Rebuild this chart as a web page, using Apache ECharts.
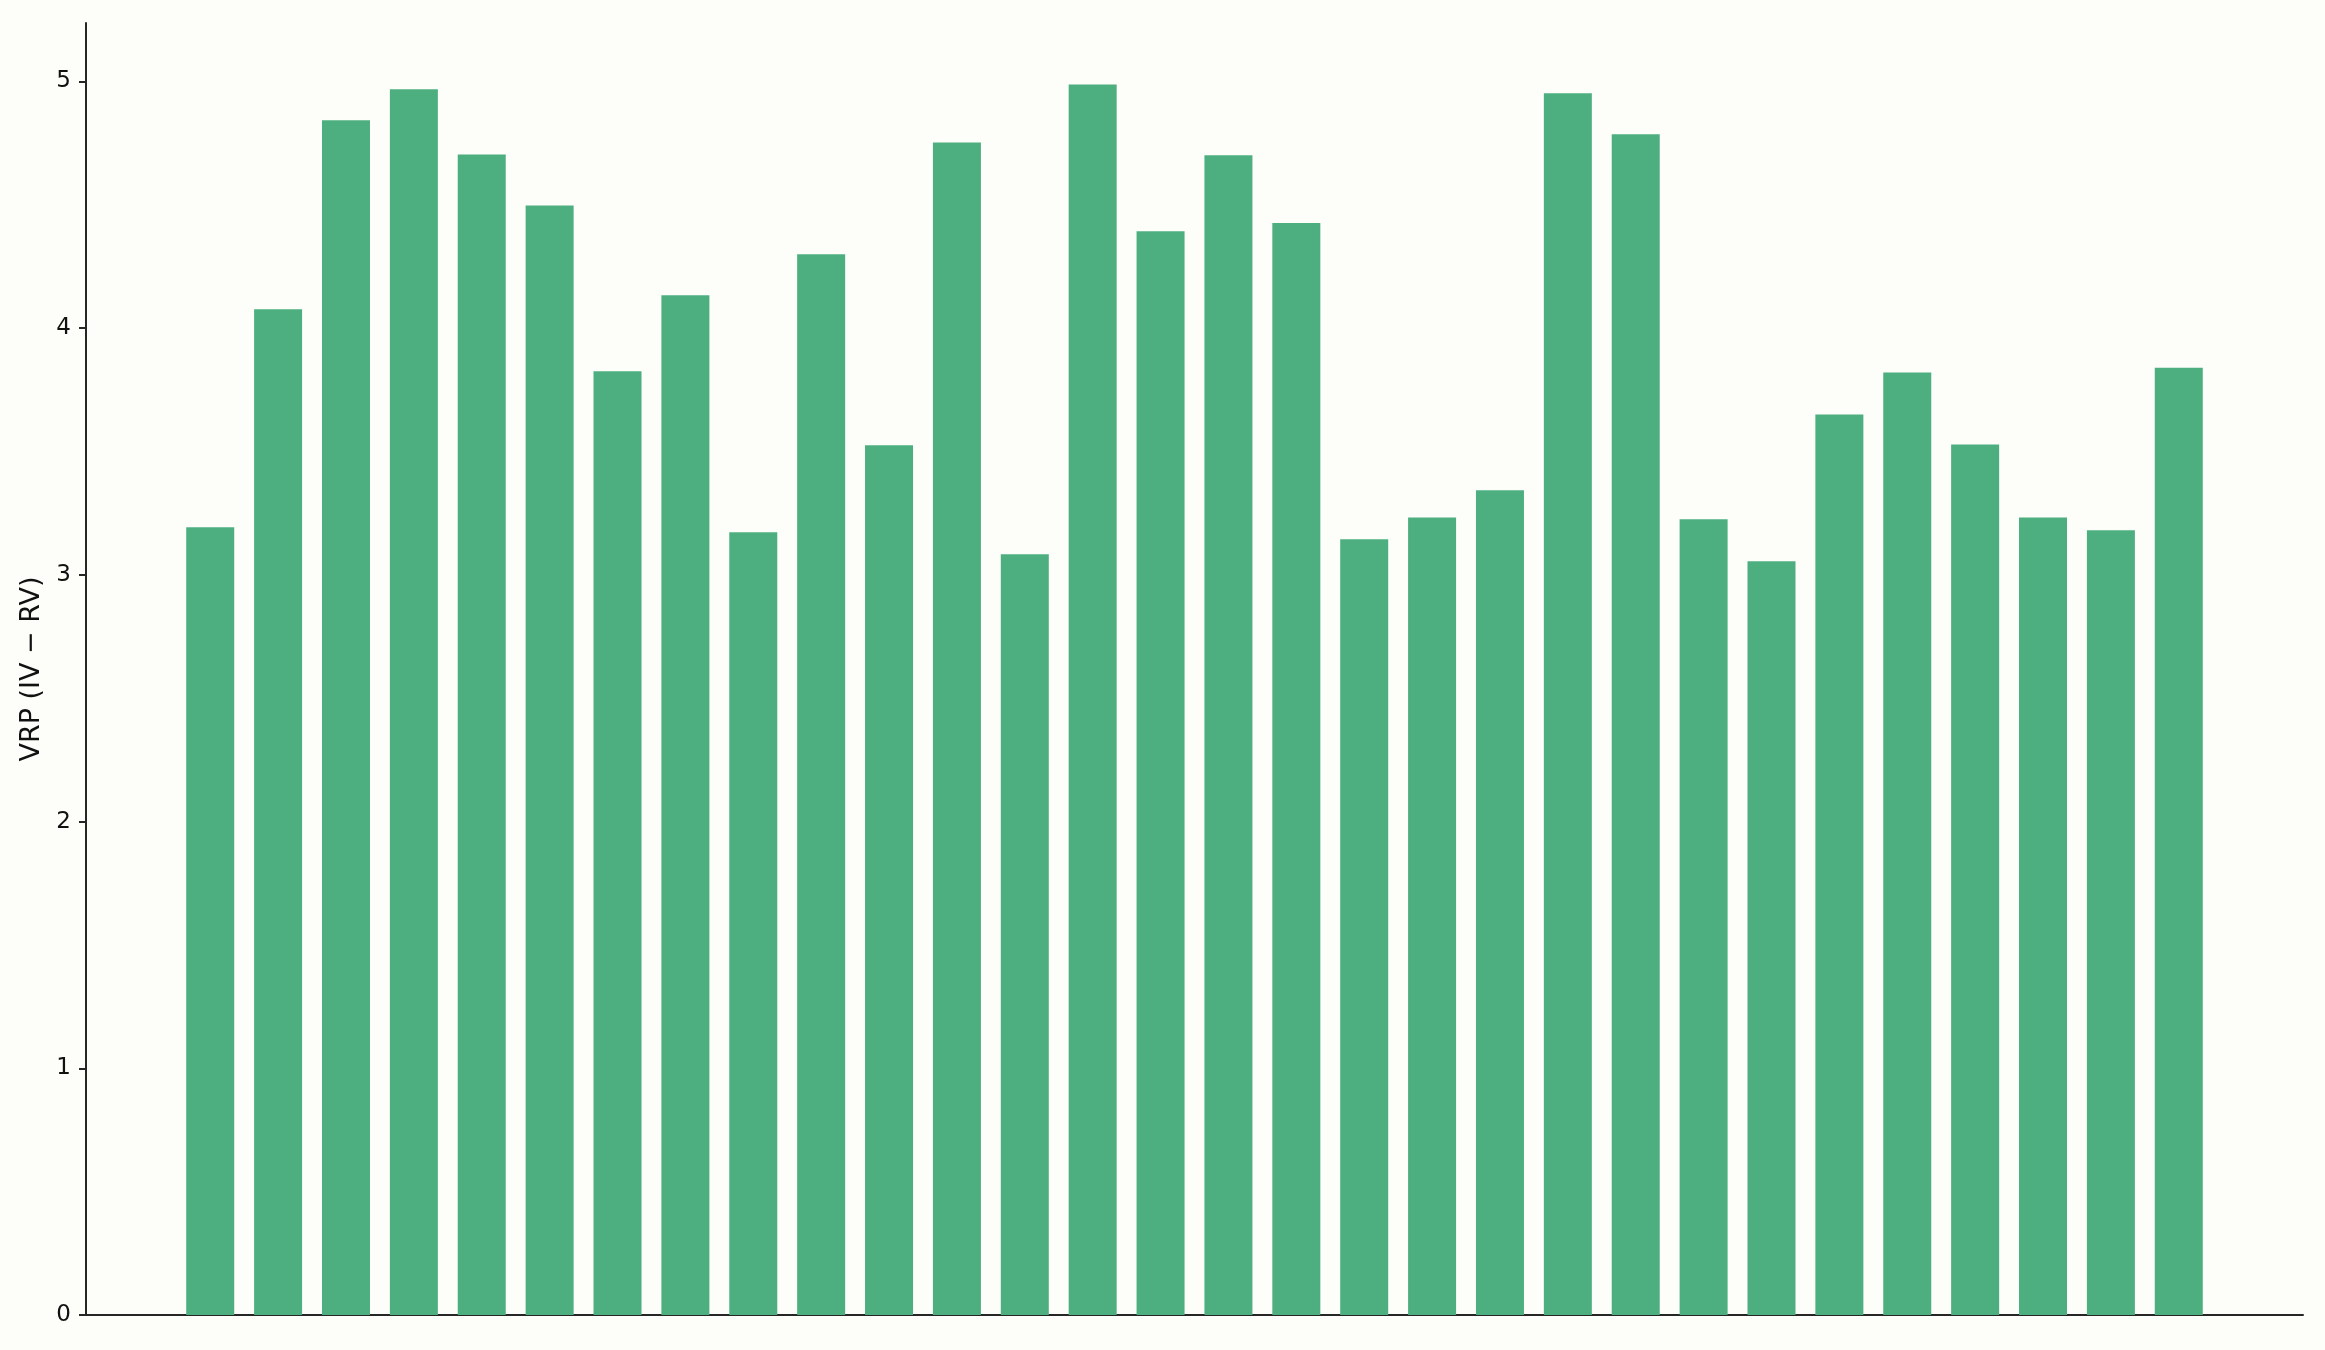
<!DOCTYPE html>
<html>
<head>
<meta charset="utf-8">
<script src="https://cdn.jsdelivr.net/npm/echarts@6/dist/echarts.min.js"></script>
<style>
html,body{margin:0;padding:0;background:#fdfdf9;}
#chart{width:2325px;height:1350px;}
</style>
</head>
<body>
<div id="chart"></div>
<script>
const categories = [0,1,2,3,4,5,6,7,8,9,10,11,12,13,14,15,16,17,18,19,20,21,22,23,24,25,26,27,28,29];
const vrpValues = [3.193,4.077,4.843,4.968,4.704,4.497,3.825,4.133,3.173,4.300,
                   3.525,4.753,3.084,4.988,4.393,4.701,4.426,3.144,3.233,3.343,
                   4.952,4.786,3.225,3.055,3.650,3.820,3.528,3.233,3.181,3.840];
const yTicks = [0,1,2,3,4,5];
const yTitle = 'VRP (IV − RV)';

const chart = echarts.init(document.getElementById('chart'), null, {renderer:'canvas'});
const axisColor = '#262626';
chart.setOption({
  backgroundColor:'#fdfdf9',
  animation:false,
  grid:{left:86,right:22,top:23,bottom:35,containLabel:false},
  xAxis:{
    type:'value',min:-1.83,max:30.83,
    axisLine:{show:true,onZero:false,lineStyle:{color:axisColor,width:2}},
    axisTick:{show:false},axisLabel:{show:false},splitLine:{show:false}
  },
  yAxis:{
    type:'value',min:0,max:5.237,
    name:yTitle,nameLocation:'middle',nameGap:31,
    nameTextStyle:{fontFamily:'DejaVu Sans',fontSize:27,color:'#111'},
    axisLine:{show:true,onZero:false,lineStyle:{color:axisColor,width:2}},
    axisTick:{show:true,length:7,customValues:yTicks,lineStyle:{color:axisColor,width:2}},
    axisLabel:{show:true,margin:15,customValues:yTicks,fontFamily:'DejaVu Sans',fontSize:23,color:'#111'},
    splitLine:{show:false}
  },
  series:[{
    type:'bar',
    barWidth:48,
    itemStyle:{color:'#4daf7f'},
    data:categories.map((c,i)=>[c,vrpValues[i]])
  }]
});
</script>
</body>
</html>
